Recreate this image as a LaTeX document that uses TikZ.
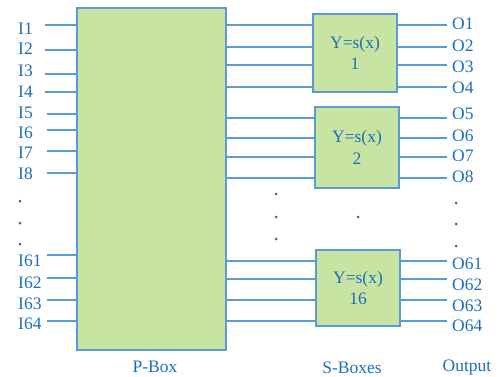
\documentclass[tikz,border=0pt]{standalone}
\usepackage{fontspec}
\setmainfont{Liberation Serif}
\definecolor{wireblue}{RGB}{91,155,213}
\definecolor{txtblue}{RGB}{28,110,186}
\definecolor{boxgreen}{RGB}{200,228,163}
\tikzset{
  wire/.style={draw=wireblue, line width=1.7pt},
  boxfill/.style={draw=wireblue, line width=2pt, fill=boxgreen, inner sep=0pt},
  sbox/.style={boxfill, align=center, text=txtblue, font=\fontsize{17.5}{21.5}\selectfont},
  lbl/.style={text=txtblue, font=\fontsize{17.5}{21}\selectfont, inner sep=0pt},
  gap/.style={circle, fill=txtblue, inner sep=0pt, minimum size=3pt}
}
\begin{document}
\begin{tikzpicture}[x=1pt, y=-1pt]
\useasboundingbox (0,0) rectangle (503,377);

% permutation box
\node[boxfill, minimum width=149pt, minimum height=342pt] (pbox) at (151.5,179) {};

% substitution boxes
\node[sbox, minimum width=84pt, minimum height=78pt] (sb1) at (355,53) {Y=s(x)\\1};
\node[sbox, minimum width=84pt, minimum height=81pt] (sb2) at (357,147.5) {Y=s(x)\\2};
\node[sbox, minimum width=84pt, minimum height=76pt] (sb16) at (358,288) {Y=s(x)\\16};

% input wires into the P-box
\foreach \y/\x in {25/45,50/45,74/45,92/45,114/47,130/47,151/47,173/47,255/47,278/47,300/47,321/47}
  \draw[wire] (\x,\y) coordinate (in) -- (in -| pbox.west);

% input labels
\foreach \t/\y in {I1/29,I2/48.5,I3/70.5,I4/92,I5/112.5,I6/132.5,I7/153,I8/174,I61/261,I62/282.5,I63/304,I64/323.5}
  \node[lbl, anchor=west] (lab\t) at (18,\y) {\t};

% wires from the P-box into the S-boxes
\foreach \y in {25,47,65,87}
  \draw[wire] (pbox.east |- 0,\y) -- (sb1.west |- 0,\y);
\foreach \y in {118,138,157,178}
  \draw[wire] (pbox.east |- 0,\y) -- (sb2.west |- 0,\y);
\foreach \y in {261,279,300,321}
  \draw[wire] (pbox.east |- 0,\y) -- (sb16.west |- 0,\y);

% output wires
\foreach \y in {25,47,65,87}
  \draw[wire] (sb1.east |- 0,\y) -- (447,\y);
\foreach \y in {118,138,157,178}
  \draw[wire] (sb2.east |- 0,\y) -- (447,\y);
\foreach \y in {261,279,300,321}
  \draw[wire] (sb16.east |- 0,\y) -- (447,\y);

% output labels
\foreach \t/\y in {O1/24,O2/46,O3/67,O4/87.5,O5/114,O6/136,O7/156,O8/177,O61/264,O62/285,O63/306,O64/326}
  \node[lbl, anchor=west] (lab\t) at (452,\y) {\t};

% ellipsis dots
\foreach \y [count=\i] in {201,223,244} \node[gap] (dl\i) at (20,\y) {};
\foreach \y [count=\i] in {194,217,239} \node[gap] (dm\i) at (276,\y) {};
\node[gap] (ds) at (358,217) {};
\foreach \y [count=\i] in {203,224,246} \node[gap] (dr\i) at (456,\y) {};

% captions
\node[lbl, anchor=base] (cp) at (155,372.5) {P-Box};
\node[lbl, anchor=base] (cs) at (352,373.5) {S-Boxes};
\node[lbl, anchor=base] (co) at (467,371) {Output};
\end{tikzpicture}
\end{document}
